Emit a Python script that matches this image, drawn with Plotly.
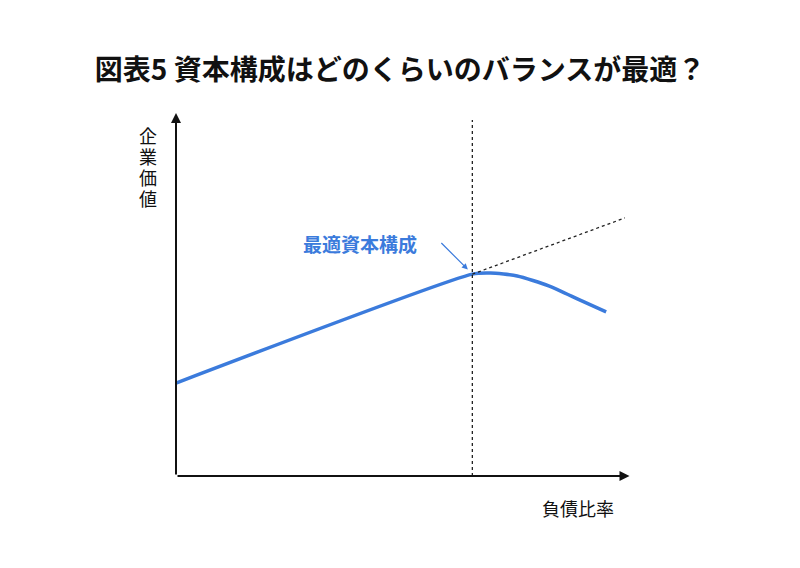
import plotly.graph_objects as go

line_x = [0, 66, 70, 76, 83, 90, 95.8]
line_y = [26.1, 56.7, 57.0, 56.2, 53.4, 49.4, 46.1]
trend_x = [66, 100]
trend_y = [56.7, 72.5]
opt_x = 66
ylabel_chars = ["企", "業", "価", "値"]

blue = "#3b7bdc"
F = "Noto Sans CJK JP"
fig = go.Figure()
fig.add_trace(go.Scatter(x=line_x, y=line_y, mode="lines", line=dict(color=blue, width=3.5, shape="spline", smoothing=0.6), hoverinfo="skip"))
fig.add_trace(go.Scatter(x=trend_x, y=trend_y, mode="lines", line=dict(color="#222", width=1.3, dash="dot"), hoverinfo="skip"))
fig.add_trace(go.Scatter(x=[opt_x, opt_x], y=[0, 103], mode="lines", line=dict(color="#222", width=1.3, dash="dot"), hoverinfo="skip"))
fig.add_annotation(x=0, y=102, ax=0, ay=0, xref="x", yref="y", axref="x", ayref="y", showarrow=True, arrowhead=2, arrowwidth=2, arrowsize=1, arrowcolor="#111", text="")
fig.add_annotation(x=101, y=0, ax=0, ay=0, xref="x", yref="y", axref="x", ayref="y", showarrow=True, arrowhead=2, arrowwidth=2, arrowsize=1, arrowcolor="#111", text="")
fig.add_annotation(x=65, y=58, ax=-28, ay=-28, text="", showarrow=True, arrowhead=2, arrowwidth=1.2, arrowcolor=blue)
fig.add_annotation(x=(360-176)/449, y=(476-243)/356, xref="paper", yref="paper", xanchor="center", yanchor="middle",
                   text="<b>最適資本構成</b>", showarrow=False, font=dict(family=F, size=19, color=blue))
for i, ch in enumerate(ylabel_chars):
    fig.add_annotation(x=(148-176)/449, y=(476-(135+i*21))/356, xref="paper", yref="paper", xanchor="center", yanchor="middle",
                       text=ch, showarrow=False, font=dict(family=F, size=18, color="#111"))
fig.add_annotation(x=(578-176)/449, y=(476-508)/356, xref="paper", yref="paper", xanchor="center", yanchor="middle",
                   text="負債比率", showarrow=False, font=dict(family=F, size=18, color="#111"))
fig.update_layout(
    width=800, height=568, showlegend=False, plot_bgcolor="white", paper_bgcolor="white",
    margin=dict(l=168, r=183, t=112, b=100),
    title=dict(text="<b>図表5 資本構成はどのくらいのバランスが最適？</b>", x=0.49, xanchor="center", y=1-62/568, yanchor="middle", font=dict(family=F, size=28, color="#111")),
    xaxis=dict(range=[0, 100], visible=False),
    yaxis=dict(range=[0, 100], visible=False),
)
fig.write_html("out.html")
